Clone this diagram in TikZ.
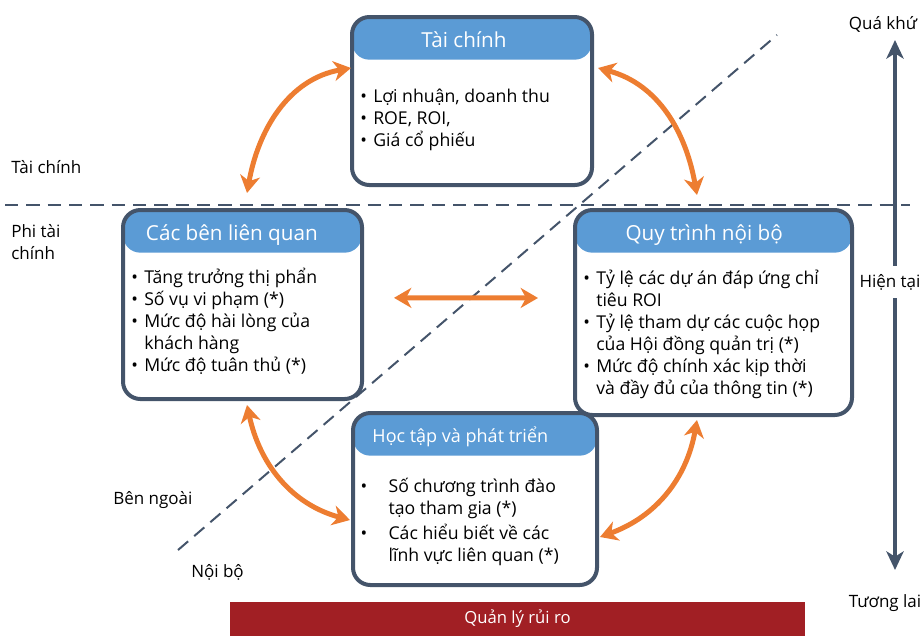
\documentclass[tikz,border=0pt]{standalone}
\usepackage{fontspec}
\setmainfont{Open Sans}
\usetikzlibrary{arrows.meta}
\definecolor{headblue}{HTML}{5B9BD5}
\definecolor{slate}{HTML}{44546A}
\definecolor{orangearr}{HTML}{ED7D31}
\definecolor{riskred}{HTML}{A11F24}
\tikzstyle{card} = [rectangle, rounded corners=13pt, draw=slate, line width=3pt, fill=white, inner sep=0pt, path picture={\fill[headblue] (path picture bounding box.north west) rectangle ([yshift=-32pt]path picture bounding box.north east);}]
\tikzstyle{cardtitle} = [text=white, inner sep=0pt, font=\fontsize{15.5}{18}\selectfont]
\tikzstyle{cardtext} = [anchor=base west, inner sep=0pt, font=\fontsize{13.25}{16.5}\selectfont]
\tikzstyle{sidetext} = [inner sep=0pt, align=left, font=\fontsize{12.75}{16.5}\selectfont]
\tikzstyle{guide} = [slate, line width=1.5pt, dash pattern=on 10pt off 6pt]
\tikzstyle{arrow} = [orangearr, line width=3.75pt, {Stealth[length=13pt,width=15pt,inset=4pt]}-{Stealth[length=13pt,width=15pt,inset=4pt]}]
\tikzstyle{timearrow} = [slate, line width=3.5pt, -{Stealth[length=14pt,width=13pt,inset=4pt]}]
\newcommand{\itm}{\makebox[9.75pt][l]{•}}
\newcommand{\itmw}{\makebox[21pt][l]{•}}
\newcommand{\cnt}{\hspace*{9.75pt}}
\newcommand{\cntw}{\hspace*{21pt}}
\newenvironment{lines}{\begin{tabular}[t]{@{}l@{}}}{\end{tabular}}

\begin{document}
\begin{tikzpicture}[x=0.75pt, y=-0.75pt]
\useasboundingbox (0,0) rectangle (923,636);
% divider lines
\coordinate (hl) at (5,205);
\coordinate (hr) at (910,205);
\coordinate (dl) at (178,550);
\coordinate (dr) at (777,35);
\draw[guide] (hl) -- (hr);
\draw[guide] (dl) -- (dr);
\node[sidetext, anchor=west] (fin) at (11,167) {Tài chính};
\node[sidetext, anchor=west] (nonfin) at (11,242) {Phi tài\\chính};
\node[sidetext, anchor=west] (ext) at (113,500) {Bên ngoài};
\node[sidetext, anchor=west] (int) at (191,572) {Nội bộ};

% the four cards
\node[card, minimum width=180pt, minimum height=126pt] (tc) at (472,101) {};
\node[cardtitle] (tct) at ([xshift=-6pt,yshift=-18.5pt]tc.north) {Tài chính};
\node[cardtext] (tcb) at ([xshift=7.5pt,yshift=-65.25pt]tc.north west) {\begin{lines}\itm Lợi nhuận, doanh thu\\ \itm ROE, ROI,\\ \itm Giá cổ phiếu\end{lines}};

\node[card, minimum width=179.25pt, minimum height=141.75pt] (bl) at (242.5,304.5) {};
\node[cardtitle] (blt) at ([xshift=-8pt,yshift=-20pt]bl.north) {Các bên liên quan};
\node[cardtext] (blb) at ([xshift=7.5pt,yshift=-56.5pt]bl.north west) {\begin{lines}\itm Tăng trưởng thị phẩn\\ \itm Số vụ vi phạm (*)\\ \itm Mức độ hài lòng của\\ \cnt khách hàng\\ \itm Mức độ tuân thủ (*)\end{lines}};

\node[card, minimum width=207.75pt, minimum height=153.75pt] (qt) at (713.5,312.5) {};
\node[cardtitle] (qtt) at ([xshift=-7pt,yshift=-20.5pt]qt.north) {Quy trình nội bộ};
\node[cardtext] (qtb) at ([xshift=7.5pt,yshift=-57pt]qt.north west) {\begin{lines}\itm Tỷ lệ các dự án đáp ứng chỉ\\ \cnt tiêu ROI\\ \itm Tỷ lệ tham dự các cuộc họp\\ \cnt của Hội đồng quản trị (*)\\ \itm Mức độ chính xác kịp thời\\ \cnt và đầy đủ của thông tin (*)\end{lines}};

\node[card, minimum width=183pt, minimum height=129pt] (ht) at (475,499) {};
\node[cardtitle, font=\fontsize{13.5}{16}\selectfont] (htt) at ([xshift=-11pt,yshift=-19.5pt]ht.north) {Học tập và phát triển};
\node[cardtext] (htb) at ([xshift=7pt,yshift=-61pt]ht.north west) {\begin{lines}\itmw Số chương trình đào\\ \cntw tạo tham gia (*)\\[2pt] \itmw Các hiểu biết về các\\ \cntw lĩnh vực liên quan (*)\end{lines}};

% links between cards
\draw[arrow] ([xshift=0.75pt,yshift=24.75pt]tc.west) to[out=190,in=80] ([xshift=3.4pt,yshift=11.25pt]bl.north);
\draw[arrow] ([xshift=3pt,yshift=24.75pt]tc.east) to[out=-15,in=100] ([xshift=-12.4pt,yshift=9.75pt]qt.north);
\draw[arrow] ([xshift=3.4pt,yshift=-3pt]bl.south) to[out=-78,in=165] ([xshift=-0.75pt,yshift=-15.75pt]ht.west);
\draw[arrow] ([xshift=-12.4pt,yshift=-2.25pt]qt.south) to[out=-100,in=20] ([xshift=0.75pt,yshift=-28.5pt]ht.east);
\draw[arrow] ([xshift=22.5pt,yshift=5pt]bl.east) -- ([xshift=-26.25pt,yshift=10.9pt]qt.west);

% time axis
\node[sidetext] (past) at (883,24) {Quá khứ};
\node[sidetext] (future) at (885,603) {Tương lai};
\node[sidetext, minimum height=24pt] (now) at (890,282) {Hiện tại};
\coordinate (pasttip) at (895,40);
\coordinate (futtip) at (895,570);
\draw[timearrow] (now.north -| pasttip) -- (pasttip);
\draw[timearrow] (now.south -| futtip) -- (futtip);

\node[fill=riskred, text=white, minimum width=431.25pt, minimum height=25.5pt, inner sep=0pt, font=\fontsize{12.5}{15}\selectfont] (risk) at (517.5,619) {Quản lý rủi ro};
\end{tikzpicture}
\end{document}
